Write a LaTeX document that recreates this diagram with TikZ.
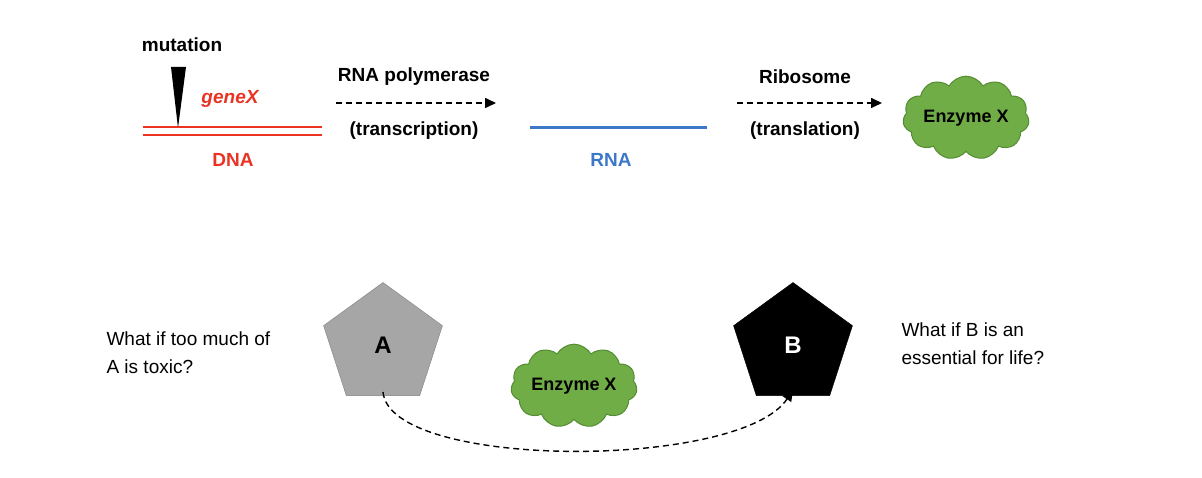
\documentclass[tikz,border=0pt]{standalone}
\usepackage{fontspec}
\setmainfont{Liberation Sans}
\usetikzlibrary{shapes.symbols,shapes.geometric,arrows.meta}
\definecolor{dred}{RGB}{234,51,35}
\definecolor{dblue}{RGB}{60,120,200}
\definecolor{cgreen}{RGB}{112,173,71}
\definecolor{cgreenD}{RGB}{84,140,50}
\begin{document}
\begin{tikzpicture}[x=1pt,y=-1pt,
  lbl/.style={font=\bfseries\fontsize{19}{22}\selectfont},
  q/.style={font=\fontsize{19}{28}\selectfont,align=left,anchor=west},
  enz/.style={cloud,cloud puffs=11,cloud puff arc=120,aspect=1.8,fill=cgreen,draw=cgreenD,line width=1pt,font=\bfseries\fontsize{18}{20}\selectfont,inner sep=0pt},
  darr/.style={dash pattern=on 6pt off 4pt,line width=1.6pt,-{Triangle[length=11pt,width=10pt]}},
  pent/.style={regular polygon,regular polygon sides=5,minimum size=125pt,draw,font=\bfseries\fontsize{24}{28}\selectfont,inner sep=0pt}]
\useasboundingbox (0,0) rectangle (1202,478);
\node[lbl] (mut) at (182,45) {mutation};
\coordinate (m1) at (171,67); \coordinate (m2) at (186,67); \coordinate (mtip) at (178,128);
\fill (m1) -- (m2) -- (mtip) -- cycle;
\node[lbl,text=dred,font=\bfseries\itshape\fontsize{19}{22}\selectfont] (gx) at (230,99) {geneX};
\coordinate (d1) at (143,127); \coordinate (d2) at (322,127);
\coordinate (d3) at (143,135); \coordinate (d4) at (322,135);
\draw[dred,line width=2.5pt] (d1) -- (d2) (d3) -- (d4);
\node[lbl,text=dred] (dna) at (233,160) {DNA};
\node[lbl] (pol) at (414,77) {RNA polymerase};
\coordinate (a1) at (336,103); \coordinate (a2) at (496,103);
\draw[darr] (a1) -- (a2);
\node[lbl] (tr) at (414,131) {(transcription)};
\coordinate (r1) at (530,128); \coordinate (r2) at (707,128);
\draw[dblue,line width=3pt] (r1) -- (r2);
\node[lbl,text=dblue] (rna) at (611,160) {RNA};
\node[lbl] (rib) at (805,77) {Ribosome};
\coordinate (b1) at (737,103); \coordinate (b2) at (882,103);
\draw[darr] (b1) -- (b2);
\node[lbl] (tl) at (805,131) {(translation)};
\node[enz,minimum width=120pt,minimum height=64pt] (e1) at (966,118) {Enzyme X};
\node[q] (qa) at (103,353) {What if too much of\\A is toxic?};
\node[pent,fill=black!35,draw=black!50] (A) at (383,345) {A};
\node[enz,minimum width=112pt,minimum height=62pt] (e2) at (574,386) {Enzyme X};
\node[pent,fill=black,text=white] (B) at (793,345) {B};
\node[q] (qb) at (898,344) {What if B is an\\essential for life?};
\draw[dash pattern=on 6pt off 4pt,line width=1.4pt,-{Triangle[length=11pt,width=10pt]}] (383,392) .. controls (390,470) and (740,470) .. (793,390);
\end{tikzpicture}
\end{document}
